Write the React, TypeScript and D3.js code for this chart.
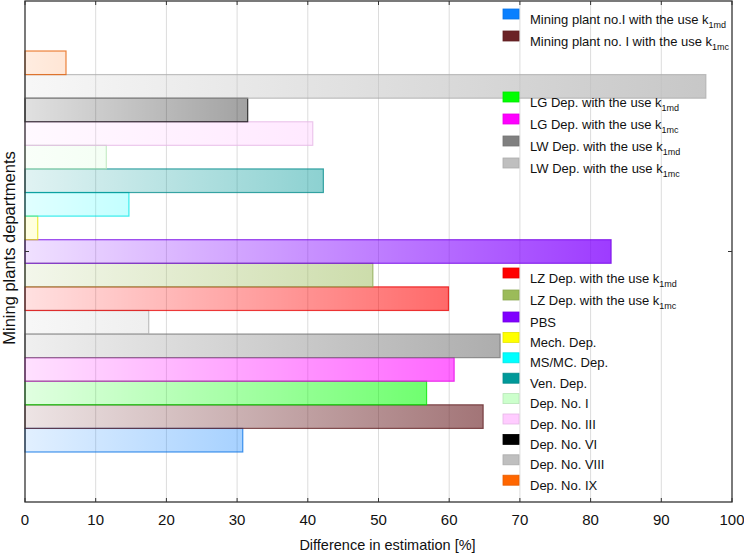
import React from 'react';
import * as d3 from 'd3';

// series, in legend order (first one is the bottom bar)
const labels = [
  'Mining plant no.I with the use k',
  'Mining plant no. I with the use k',
  'LG Dep. with the use k',
  'LG Dep. with the use k',
  'LW Dep. with the use k',
  'LW Dep. with the use k',
  'LZ Dep. with the use k',
  'LZ Dep. with the use k',
  'PBS',
  'Mech. Dep.',
  'MS/MC. Dep.',
  'Ven. Dep.',
  'Dep. No. I',
  'Dep. No. III',
  'Dep. No. VI',
  'Dep. No. VIII',
  'Dep. No. IX',
];
const subs = ['1md', '1mc', '1md', '1mc', '1md', '1mc', '1md', '1mc', '', '', '', '', '', '', '', '', ''];
const values = [30.8, 64.8, 56.8, 60.7, 67.2, 17.5, 59.9, 49.2, 82.9, 1.8, 14.7, 42.2, 11.5, 40.7, 31.5, 96.3, 5.8];
const colors = [
  '#0a80ff', '#6b2226', '#00ff00', '#ff00ff', '#808080', '#bfbfbf', '#ff0000', '#9bbb59',
  '#8000ff', '#ffff00', '#00ffff', '#009999', '#ccffcc', '#ffccff', '#000000', '#bfbfbf', '#ff6600',
];
const xTicks = [0, 10, 20, 30, 40, 50, 60, 70, 80, 90, 100];

// legend is split in three blocks: [first index, last index, top y]
const legendBlocks = [
  [0, 1, 9],
  [2, 5, 92],
  [6, 16, 268],
];

const W = 744;
const H = 555;
const left = 25, right = 732, top = 1, bottom = 502;
const font = 'Liberation Sans, Arial, sans-serif';

export default function App() {
  const ids = labels.map((_, i) => i);
  const x = d3.scaleLinear().domain([0, 100]).range([left, right]);
  const y = d3.scaleBand<number>()
    .domain(ids.slice().reverse())
    .range([top, bottom])
    .paddingInner(0)
    .paddingOuter(2.12);

  const legendRows: { i: number; y: number }[] = [];
  legendBlocks.forEach(([a, b, y0]) => {
    let yy = y0;
    for (let i = a; i <= b; i++) {
      legendRows.push({ i, y: yy });
      yy += subs[i] ? 22 : 20.4;
    }
  });

  const stroke = (c: string) => d3.color(c)!.darker(0.3).formatHex();

  return (
    <svg width={W} height={H} style={{ position: 'absolute', left: 0, top: 0, background: '#fff' }}>
      <defs>
        {ids.map(i => (
          <linearGradient key={i} id={`g${i}`} gradientUnits="userSpaceOnUse"
            x1={x(0)} x2={x(100)} y1={0} y2={0}>
            <stop offset="0%" stopColor={colors[i]} stopOpacity={0.12} />
            <stop offset="100%" stopColor={colors[i]} stopOpacity={0.9} />
          </linearGradient>
        ))}
      </defs>

      {/* grid */}
      {xTicks.slice(1, -1).map(t => (
        <line key={t} x1={x(t)} x2={x(t)} y1={top} y2={bottom} stroke="#dcdcdc" strokeWidth={1} />
      ))}

      {/* bars */}
      {ids.map(i => (
        <rect key={i} x={x(0)} y={y(i)} width={x(values[i]) - x(0)} height={y.bandwidth()}
          fill={`url(#g${i})`} stroke={stroke(colors[i])} strokeOpacity={0.75} strokeWidth={1.2} />
      ))}

      {/* frame and ticks */}
      <rect x={left} y={top} width={right - left} height={bottom - top} fill="none" stroke="#333" strokeWidth={1.3} />
      {xTicks.map(t => (
        <g key={t}>
          <line x1={x(t)} x2={x(t)} y1={top} y2={top + 4} stroke="#333" />
          <line x1={x(t)} x2={x(t)} y1={bottom} y2={bottom - 4} stroke="#333" />
          <text x={x(t)} y={525} textAnchor="middle" fontFamily={font} fontSize={15} fill="#111">{t}</text>
        </g>
      ))}
      <line x1={left} x2={left + 4} y1={(top + bottom) / 2} y2={(top + bottom) / 2} stroke="#333" />
      <line x1={right} x2={right - 4} y1={(top + bottom) / 2} y2={(top + bottom) / 2} stroke="#333" />

      <text x={(left + right) / 2 + 9} y={550} textAnchor="middle" fontFamily={font} fontSize={14.5} fill="#111">
        Difference in estimation [%]
      </text>
      <text transform={`translate(15,248) rotate(-90)`} textAnchor="middle"
        fontFamily={font} fontSize={16.5} fill="#111">
        Mining plants departments
      </text>

      {/* legend */}
      {legendRows.map(({ i, y: ly }) => (
        <g key={i}>
          <rect x={503} y={ly} width={16} height={10} fill={colors[i]} stroke={stroke(colors[i])} strokeWidth={0.8} />
          <text x={530} y={ly + 14.5} fontFamily={font} fontSize={13} fill="#111">
            {labels[i]}
            {subs[i] && <tspan dy={4} fontSize={9}>{subs[i]}</tspan>}
          </text>
        </g>
      ))}
    </svg>
  );
}
